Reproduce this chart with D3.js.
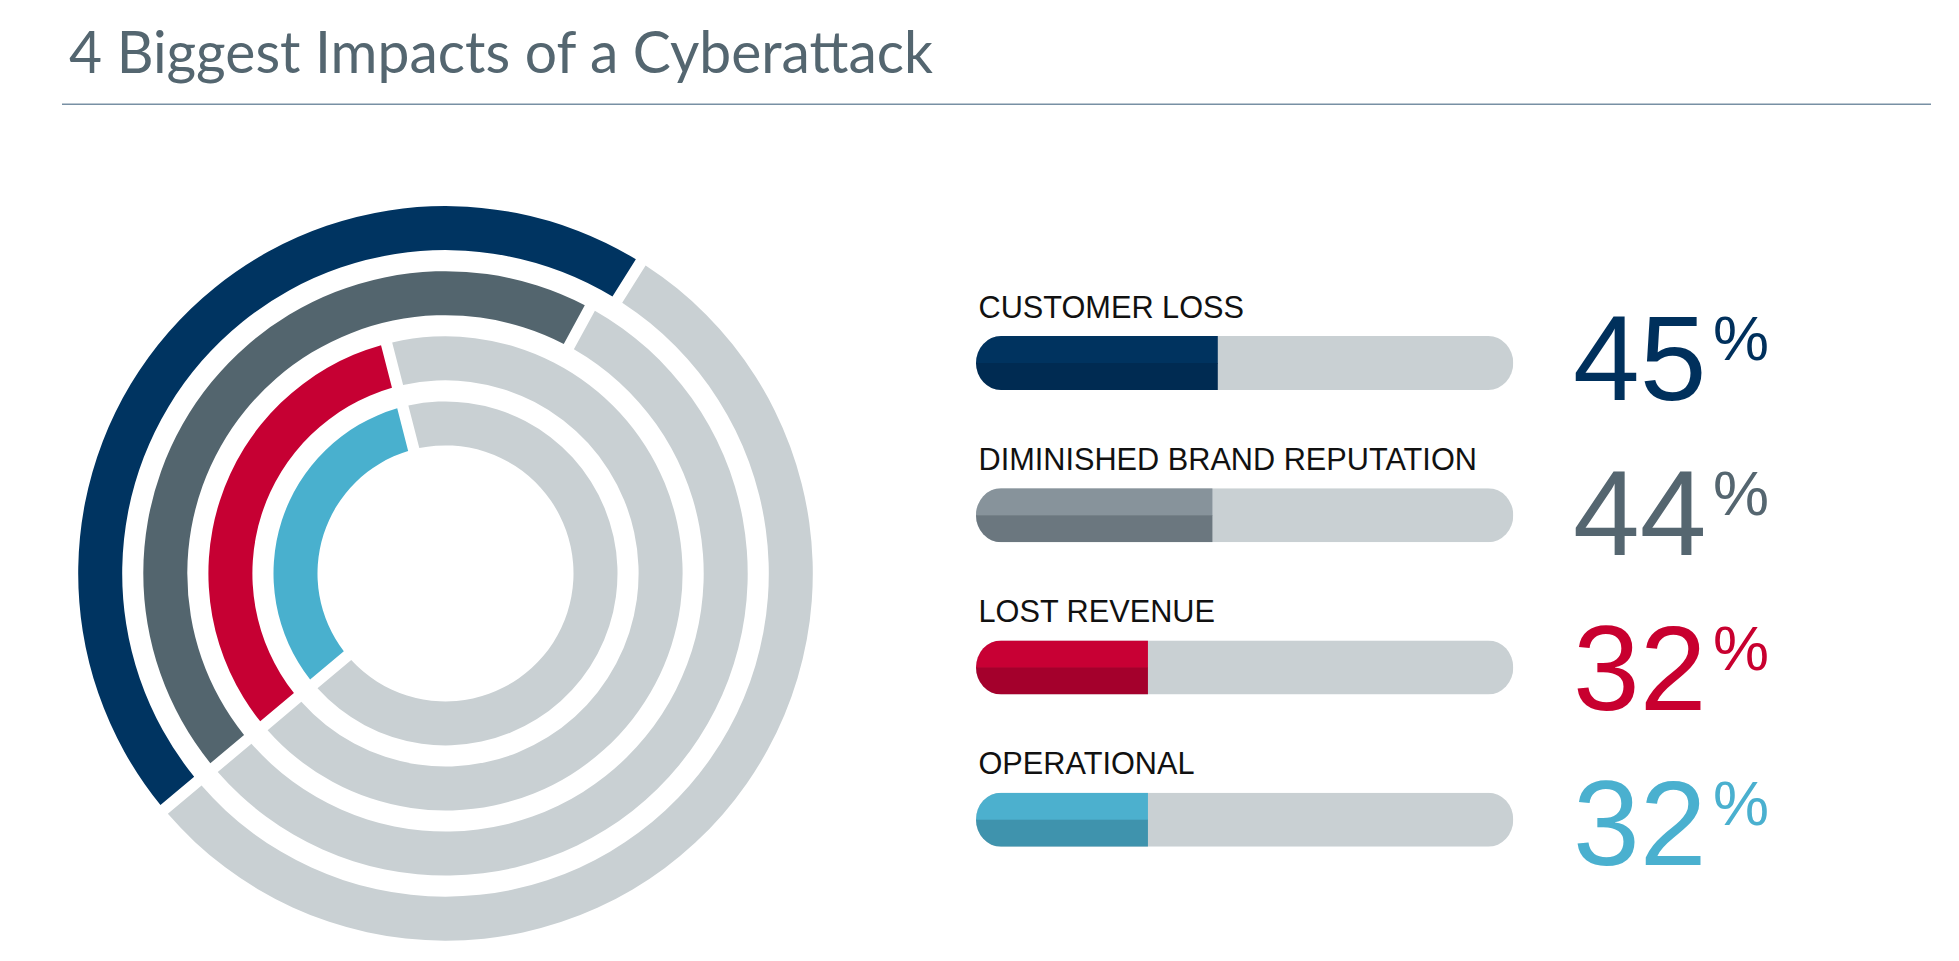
<!DOCTYPE html>
<html>
<head>
<meta charset="utf-8">
<script src="https://cdn.jsdelivr.net/npm/d3@7/dist/d3.min.js"></script>
<style>
  html, body { margin: 0; padding: 0; background: #ffffff; }
  svg { display: block; }
</style>
</head>
<body>
<svg id="chart" width="1959" height="961"></svg>
<script>
// ---- data ----
const title = "4 Biggest Impacts of a Cyberattack";
const categories = ["CUSTOMER LOSS", "DIMINISHED BRAND REPUTATION", "LOST REVENUE", "OPERATIONAL"];
const values = [45, 44, 32, 32];
const valueLabels = ["45", "44", "32", "32"];
const percentSign = "%";

// ---- palette ----
const ringColors = ["#003461", "#53656e", "#c60033", "#49b0ce"];
const barTopColors = ["#00335f", "#87939b", "#c80034", "#4cb0ce"];
const barBottomColors = ["#002b52", "#6b777f", "#a4002c", "#3f93ad"];
const numberColors = ["#00305c", "#556670", "#c8002f", "#4ab0cf"];
const trackColor = "#c9d0d3";

const svg = d3.select("#chart");

// ---- title ----
svg.append("text")
  .attr("x", 69).attr("y", 72.5)
  .attr("font-family", "Lato, 'Open Sans', sans-serif")
  .attr("font-size", 59)
  .attr("fill", "#546670")
  .attr("textLength", 864)
  .attr("lengthAdjust", "spacingAndGlyphs")
  .text(title);

svg.append("line")
  .attr("x1", 62).attr("x2", 1931)
  .attr("y1", 104.3).attr("y2", 104.3)
  .attr("stroke", "#7890a4").attr("stroke-width", 1.5);

// ---- rings ----
const cx = 445.5, cy = 573.4;
const ringIndex = d3.scaleLinear().domain([0, 3]).range([367.3, 172]); // outer radius per ring
const ringThickness = 44;
const startAngle = 230 * Math.PI / 180;

const pie = d3.pie()
  .sort(null)
  .value(d => d)
  .startAngle(startAngle)
  .endAngle(startAngle + 2 * Math.PI)
  .padAngle(0.02);

const ringsG = svg.append("g").attr("transform", `translate(${cx},${cy})`);

categories.forEach((cat, i) => {
  const outer = ringIndex(i);
  const arc = d3.arc()
    .outerRadius(outer)
    .innerRadius(outer - ringThickness)
    .padRadius(575);
  const arcs = pie([values[i], 100 - values[i]]);
  ringsG.append("g").selectAll("path")
    .data(arcs)
    .join("path")
    .attr("d", arc)
    .attr("fill", (d, j) => j === 0 ? ringColors[i] : trackColor);
});

// ---- bars ----
const x = d3.scaleLinear().domain([0, 100]).range([976, 1513.3]);
const yBar = d3.scalePoint().domain(categories).range([336, 792.7]);
const yNum = d3.scalePoint().domain(categories).range([400, 865]);
const barH = 54;

const defs = svg.append("defs");

categories.forEach((cat, i) => {
  const y0 = yBar(cat);
  const clipId = "barclip" + i;
  defs.append("clipPath").attr("id", clipId)
    .append("rect")
    .attr("x", x(0)).attr("y", y0)
    .attr("width", x(100) - x(0)).attr("height", barH)
    .attr("rx", 25).attr("ry", 27);

  const g = svg.append("g").attr("clip-path", `url(#${clipId})`);
  g.append("rect")
    .attr("x", x(0)).attr("y", y0)
    .attr("width", x(100) - x(0)).attr("height", barH)
    .attr("fill", trackColor);
  g.append("rect")
    .attr("x", x(0)).attr("y", y0)
    .attr("width", x(values[i]) - x(0)).attr("height", barH / 2 + 0.5)
    .attr("fill", barTopColors[i]);
  g.append("rect")
    .attr("x", x(0)).attr("y", y0 + barH / 2)
    .attr("width", x(values[i]) - x(0)).attr("height", barH / 2)
    .attr("fill", barBottomColors[i]);

  // category label
  svg.append("text")
    .attr("x", 978.5).attr("y", y0 - 18.3)
    .attr("font-family", "'Liberation Sans', Arial, sans-serif")
    .attr("font-size", 30.7)
    .attr("fill", "#111111")
    .text(cat);

  // big number
  const yn = yNum(cat);
  svg.append("text")
    .attr("x", 1573).attr("y", yn)
    .attr("font-family", "'Liberation Sans', Arial, sans-serif")
    .attr("font-size", 120)
    .attr("fill", numberColors[i])
    .text(valueLabels[i]);
  svg.append("text")
    .attr("x", 1713).attr("y", yn - 40.5)
    .attr("font-family", "'Liberation Sans', Arial, sans-serif")
    .attr("font-size", 63)
    .attr("fill", numberColors[i])
    .text(percentSign);
});
</script>
</body>
</html>
